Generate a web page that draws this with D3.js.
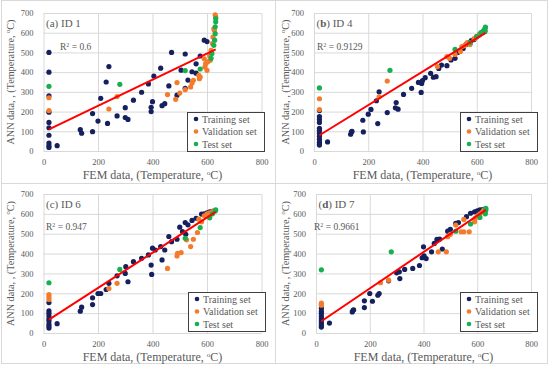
<!DOCTYPE html>
<html>
<head>
<meta charset="utf-8">
<script src="https://cdn.jsdelivr.net/npm/d3@7"></script>
<style>
  body { margin: 0; background: #fff; }
  svg { display: block; font-family: "Liberation Serif", "Times New Roman", serif; }
</style>
</head>
<body>
<div id="chart"></div>
<script>
const xTicks = [0, 200, 400, 600, 800];
const yTicks = [0, 100, 200, 300, 400, 500, 600, 700];
const seriesNames = ["Training set", "Validation set", "Test set"];
const seriesColors = ["#15205e", "#f47b2c", "#16b04e"];

// (a) ID 1
const trainA = [[20,500],[20,400],[20,280],[20,197],[20,145],[20,118],[20,80],[20,40],[20,27],[20,18],
  [50,27],[135,108],[140,90],[180,190],[180,98],[200,152],[210,267],[230,350],[235,140],[240,428],
  [270,178],[300,220],[300,170],[310,160],[330,258],[360,298],[385,340],[395,200],[395,222],[400,250],
  [405,380],[430,420],[435,230],[445,240],[460,330],[470,500],[490,283],[505,410],[520,492],[520,318],
  [530,360],[545,402],[560,442],[560,395],[575,482],[590,562],[600,555]];
const validA = [[20,270],[20,205],[240,213],[270,276],[455,286],[485,262],[490,347],[500,294],[520,311],
  [540,325],[545,345],[550,359],[570,384],[572,367],[575,375],[590,468],[592,426],[595,443],[600,409],
  [602,452],[610,485],[612,460],[615,510],[620,545],[622,578],[625,620],[627,612],[630,690],[632,680]];
const testA = [[20,328],[280,338],[520,408],[575,416],[615,470],[618,495],[625,536],[628,562],
  [630,595],[630,630],[632,655],[632,672]];
const fitA = [0.662, 96.8];

// (b) ID 4
const trainB = [[20,205],[20,175],[20,160],[20,145],[20,115],[20,105],[20,90],[20,75],[20,60],[20,45],
  [20,35],[20,30],[50,46],[135,85],[138,97],[140,100],[180,156],[182,97],[200,187],[210,211],[230,255],
  [235,139],[240,300],[270,195],[300,219],[303,246],[310,212],[330,287],[360,318],[385,348],[395,297],
  [397,343],[400,357],[410,372],[430,394],[440,374],[450,377],[460,419],[470,436],[490,433],[505,462],
  [520,470],[530,500],[540,510],[550,520],[560,540],[570,550],[575,545],[580,560],[590,565],[600,580],
  [610,590],[620,600],[630,610]];
const validB = [[20,265],[20,210],[240,275],[270,355],[455,428],[490,479],[500,470],[520,490],[540,505],
  [545,530],[555,535],[565,550],[575,540],[590,570],[600,580],[610,590],[620,600],[625,610]];
const testB = [[20,320],[280,409],[520,515],[575,550],[600,580],[615,600],[625,610],[630,620],
  [632,628],[630,605]];
const fitB = [0.849, 63];

// (c) ID 6
const trainC = [[20,153],[20,112],[20,100],[20,85],[20,70],[20,60],[20,45],[20,35],[20,25],
  [50,47],[135,110],[140,130],[180,177],[180,143],[200,199],[210,199],[230,219],[240,250],[270,288],
  [300,300],[302,334],[310,258],[330,359],[360,376],[385,393],[395,342],[397,295],[400,427],[410,418],
  [430,435],[435,368],[445,418],[460,486],[470,460],[490,472],[500,533],[510,511],[520,556],[522,497],
  [530,545],[545,567],[560,578],[580,599],[590,600],[600,605],[610,610],[620,612]];
const validC = [[20,194],[20,182],[20,169],[240,224],[270,250],[455,325],[490,388],[492,401],[505,405],
  [525,469],[540,435],[550,472],[565,506],[570,573],[580,560],[590,590],[600,600],[610,605],[620,610],
  [625,615]];
const testC = [[20,253],[280,320],[520,477],[575,531],[610,580],[620,600],[630,615],[632,620]];
const fitC = [0.887, 49.3];

// (d) ID 7
const trainD = [[20,125],[20,110],[20,100],[20,85],[20,75],[20,65],[20,55],[20,45],[20,35],[20,30],
  [50,50],[135,106],[138,114],[140,117],[180,162],[180,128],[200,199],[210,160],[230,190],[235,199],
  [270,263],[300,303],[310,308],[312,274],[330,320],[360,325],[385,340],[395,379],[400,434],[402,389],
  [410,375],[430,409],[440,451],[450,471],[460,473],[470,423],[490,513],[500,522],[520,552],[530,556],
  [560,586],[575,603],[590,610],[600,615],[610,620],[620,622],[630,625]];
const validD = [[20,150],[20,145],[20,140],[240,253],[270,266],[455,409],[485,409],[490,485],[500,497],
  [520,544],[540,510],[550,510],[570,510],[550,572],[590,560],[592,577],[600,590],[610,600],[620,610],
  [625,620],[630,615]];
const testD = [[20,318],[280,409],[520,513],[575,549],[610,582],[630,600],[630,612],[632,620],[632,628]];
const fitD = [0.917, 40.7];

const panels = [
  {tag: "a", name: "ID 1", r2: "0.6", sets: [trainA, validA, testA], fit: fitA, boldTag: false,
   px: [43.5, 261.5], py: [151, 13], legend: [187, 112], r2pos: [60, 50], titleX: 10},
  {tag: "b", name: "ID 4", r2: "0.9129", sets: [trainB, validB, testB], fit: fitB, boldTag: true,
   px: [314, 531], py: [151, 13], legend: [460, 112], r2pos: [317, 50], titleX: 285},
  {tag: "c", name: "ID 6", r2: "0.947", sets: [trainC, validC, testC], fit: fitC, boldTag: false,
   px: [43.5, 261.5], py: [333, 194], legend: [188, 292], r2pos: [46, 230], titleX: 10},
  {tag: "d", name: "ID 7", r2: "0.9661", sets: [trainD, validD, testD], fit: fitD, boldTag: true,
   px: [316, 531], py: [333, 194], legend: [460, 292], r2pos: [314, 230], titleX: 285}
];

const width = 550, height = 369;
const grey = "#595959";

const svg = d3.select("#chart").append("svg")
  .attr("width", width)
  .attr("height", height);

// panel frames
svg.append("rect")
  .attr("x", 1.5).attr("y", 0.5)
  .attr("width", 546).attr("height", 363)
  .attr("fill", "none").attr("stroke", "#d9d9d9");
svg.append("line").attr("x1", 275.5).attr("x2", 275.5).attr("y1", 0.5).attr("y2", 363.5)
  .attr("stroke", "#d9d9d9");
svg.append("line").attr("x1", 1.5).attr("x2", 547.5).attr("y1", 183.5).attr("y2", 183.5)
  .attr("stroke", "#d9d9d9");

panels.forEach(p => {
  const x = d3.scaleLinear().domain([0, 800]).range(p.px);
  const y = d3.scaleLinear().domain([0, 700]).range(p.py);
  const g = svg.append("g");

  // grid
  g.append("g")
    .attr("transform", `translate(0,${p.py[0]})`)
    .call(d3.axisBottom(x).tickValues(xTicks).tickSize(p.py[1] - p.py[0]).tickFormat(""))
    .call(a => a.select(".domain").remove())
    .call(a => a.selectAll("line").attr("stroke", "#d9d9d9"));
  g.append("g")
    .attr("transform", `translate(${p.px[0]},0)`)
    .call(d3.axisLeft(y).tickValues(yTicks).tickSize(p.px[0] - p.px[1]).tickFormat(""))
    .call(a => a.select(".domain").remove())
    .call(a => a.selectAll("line").attr("stroke", "#d9d9d9"));

  // tick labels
  g.append("g")
    .attr("transform", `translate(0,${p.py[0]})`)
    .call(d3.axisBottom(x).tickValues(xTicks).tickSize(0).tickPadding(8))
    .call(a => a.select(".domain").remove())
    .call(a => a.selectAll("text").attr("fill", grey)
      .attr("font-family", "Liberation Serif").attr("font-size", 8.5));
  g.append("g")
    .attr("transform", `translate(${p.px[0]},0)`)
    .call(d3.axisLeft(y).tickValues(yTicks).tickSize(0).tickPadding(10))
    .call(a => a.select(".domain").remove())
    .call(a => a.selectAll("text").attr("fill", grey)
      .attr("font-family", "Liberation Serif").attr("font-size", 8.5));

  // points
  p.sets.forEach((data, i) => {
    g.append("g").selectAll("circle")
      .data(data)
      .join("circle")
      .attr("cx", d => x(d[0]))
      .attr("cy", d => y(d[1]))
      .attr("r", 2.6)
      .attr("fill", seriesColors[i]);
  });

  // trendline
  const xs = p.sets.flat().map(d => d[0]);
  const ext = d3.extent(xs);
  const fitLine = d3.line()
    .x(d => x(d))
    .y(d => y(p.fit[0] * d + p.fit[1]));
  g.append("path")
    .datum(ext)
    .attr("fill", "none")
    .attr("stroke", "#ff0000")
    .attr("stroke-width", 2)
    .attr("d", fitLine);

  // panel label
  const lab = g.append("text")
    .attr("x", p.px[0] + 2.5)
    .attr("y", p.py[1] + 14)
    .attr("fill", grey)
    .attr("font-size", 11);
  lab.append("tspan").text("(");
  lab.append("tspan").attr("font-weight", p.boldTag ? "bold" : "normal").text(p.tag);
  lab.append("tspan").text(") " + p.name);

  // R2
  const r2 = g.append("text")
    .attr("x", p.r2pos[0])
    .attr("y", p.r2pos[1])
    .attr("fill", grey)
    .attr("font-size", 9.5);
  r2.append("tspan").text("R");
  r2.append("tspan").attr("font-size", 6).attr("dy", -3.5).text("2");
  r2.append("tspan").attr("dy", 3.5).text(" = " + p.r2);

  // axis titles
  const xt = g.append("text")
    .attr("x", (p.px[0] + p.px[1]) / 2)
    .attr("y", p.py[0] + 28)
    .attr("text-anchor", "middle")
    .attr("fill", grey)
    .attr("font-size", 12);
  xt.append("tspan").text("FEM data, (Temperature, ");
  xt.append("tspan").attr("font-size", 7).attr("dy", -4).text("o");
  xt.append("tspan").attr("dy", 4).text("C)");

  const yt = g.append("text")
    .attr("transform", `translate(${p.titleX},${(p.py[0] + p.py[1]) / 2}) rotate(-90)`)
    .attr("dy", "0.35em")
    .attr("text-anchor", "middle")
    .attr("fill", grey)
    .attr("font-size", 10.2);
  yt.append("tspan").text("ANN data, , (Temperature, ");
  yt.append("tspan").attr("font-size", 6.5).attr("dy", -4).text("o");
  yt.append("tspan").attr("dy", 4).text("C)");

  // legend
  const lg = g.append("g").attr("transform", `translate(${p.legend[0]},${p.legend[1]})`);
  lg.append("rect")
    .attr("x", 0.5).attr("y", 0.5)
    .attr("width", 77).attr("height", 39)
    .attr("fill", "#fff")
    .attr("stroke", "#404040")
    .attr("stroke-width", 1);
  seriesNames.forEach((s, i) => {
    lg.append("circle")
      .attr("cx", 9).attr("cy", 7 + i * 12.5)
      .attr("r", 2.3)
      .attr("fill", seriesColors[i]);
    lg.append("text")
      .attr("x", 15).attr("y", 7 + i * 12.5)
      .attr("dy", "0.35em")
      .attr("fill", grey)
      .attr("font-size", 10)
      .text(s);
  });
});
</script>
</body>
</html>
